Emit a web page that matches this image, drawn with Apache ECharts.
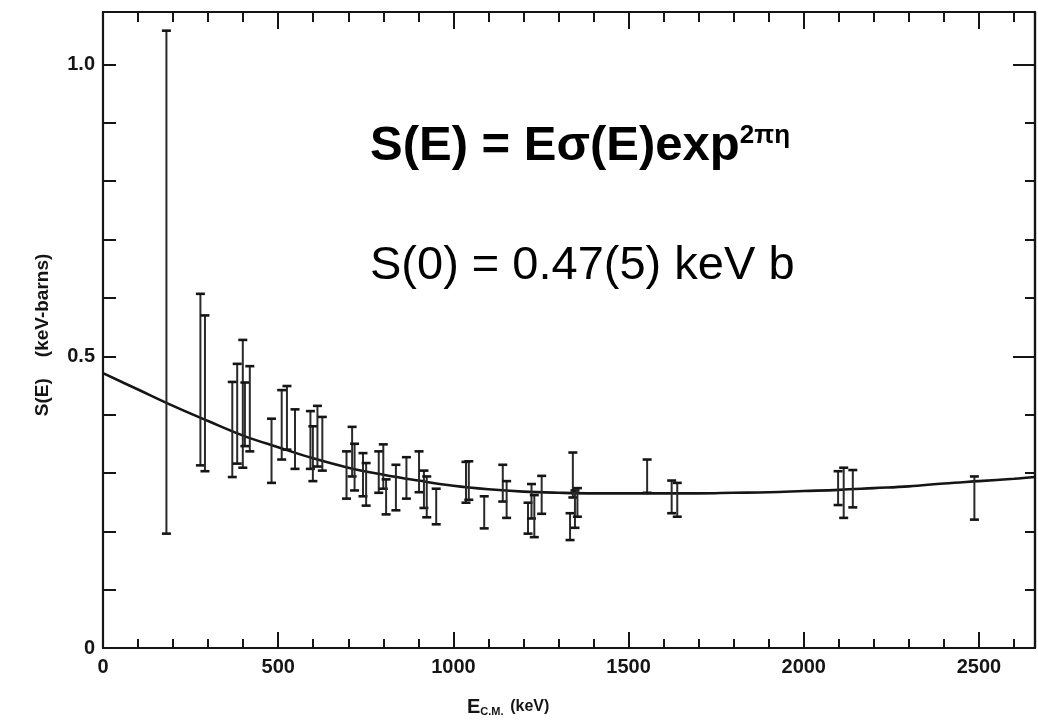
<!DOCTYPE html>
<html>
<head>
<meta charset="utf-8">
<script src="https://cdn.jsdelivr.net/npm/echarts@6/dist/echarts.min.js"></script>
<style>
html,body{margin:0;padding:0;background:#fff;}
#chart{width:1038px;height:728px;}
</style>
</head>
<body>
<div id="chart"></div>
<script>
// ---- data ----
const curveE = [0, 100, 200, 300, 400, 500, 600, 700, 800, 900, 1000, 1100, 1200, 1300, 1400, 1500, 1600, 1700, 1800, 1900, 2000, 2100, 2200, 2300, 2400, 2500, 2600, 2660];
const curveS = [0.471, 0.443, 0.415, 0.389, 0.364, 0.344, 0.325, 0.309, 0.297, 0.287, 0.278, 0.272, 0.268, 0.266, 0.265, 0.265, 0.265, 0.265, 0.266, 0.267, 0.269, 0.271, 0.274, 0.277, 0.282, 0.286, 0.290, 0.293];

const barE    = [181, 278, 291, 369, 383, 399, 405, 419, 481, 510, 525, 548, 592, 599, 612, 626, 695, 711, 718, 742, 751, 787, 800, 808, 836, 866, 902, 916, 924, 951, 1036, 1044, 1088, 1141, 1152, 1213, 1223, 1231, 1252, 1333, 1341, 1347, 1354, 1553, 1623, 1639, 2098, 2114, 2140, 2487];
const barHigh = [1.058, 0.607, 0.570, 0.456, 0.487, 0.528, 0.455, 0.483, 0.393, 0.442, 0.449, 0.409, 0.406, 0.380, 0.415, 0.396, 0.337, 0.379, 0.350, 0.334, 0.317, 0.337, 0.349, 0.289, 0.314, 0.327, 0.337, 0.304, 0.294, 0.273, 0.319, 0.320, 0.260, 0.314, 0.286, 0.249, 0.281, 0.262, 0.295, 0.231, 0.335, 0.270, 0.274, 0.323, 0.287, 0.283, 0.303, 0.309, 0.305, 0.294];
const barLow  = [0.196, 0.313, 0.303, 0.293, 0.316, 0.309, 0.346, 0.337, 0.283, 0.323, 0.340, 0.307, 0.307, 0.286, 0.311, 0.304, 0.256, 0.294, 0.270, 0.260, 0.244, 0.266, 0.273, 0.229, 0.236, 0.256, 0.267, 0.240, 0.224, 0.212, 0.249, 0.254, 0.205, 0.251, 0.223, 0.196, 0.222, 0.190, 0.230, 0.185, 0.258, 0.206, 0.225, 0.266, 0.231, 0.225, 0.245, 0.223, 0.241, 0.220];

const xTickValues = [0, 500, 1000, 1500, 2000, 2500];
const xTickLabels = ['0', '500', '1000', '1500', '2000', '2500'];
const yTickValues = [0, 0.5, 1.0];
const yTickLabels = ['0', '0.5', '1.0'];

// ---- chart ----
const INK = '#151515';
const X_MAX = 2660, Y_MAX = 1.09;

function xLabel(v) {
  const i = xTickValues.findIndex(t => Math.abs(t - v) < 1e-6);
  return i >= 0 ? xTickLabels[i] : '';
}
function yLabel(v) {
  const i = yTickValues.findIndex(t => Math.abs(t - v) < 1e-6);
  return i >= 0 ? yTickLabels[i] : '';
}

const labelFont = {color: INK, fontFamily: 'Liberation Sans', fontWeight: 'bold', fontSize: 20};

function xAxisDef(position, interval, tickLen, showLabel) {
  return {
    type: 'value', position: position, min: 0, max: X_MAX, interval: interval,
    axisLine: {show: true, onZero: false, lineStyle: {color: INK, width: 2.2}},
    axisTick: {show: true, inside: true, length: tickLen, lineStyle: {color: INK, width: 2}},
    splitLine: {show: false},
    axisLabel: showLabel ? Object.assign({show: true, margin: 9, formatter: xLabel, showMaxLabel: false}, labelFont) : {show: false}
  };
}
function yAxisDef(position, interval, tickLen, showLabel) {
  return {
    type: 'value', position: position, min: 0, max: Y_MAX, interval: interval,
    axisLine: {show: true, onZero: false, lineStyle: {color: INK, width: 2.2}},
    axisTick: {show: true, inside: true, length: tickLen, lineStyle: {color: INK, width: 2}},
    splitLine: {show: false},
    axisLabel: showLabel ? Object.assign({show: true, margin: 8, formatter: yLabel, showMaxLabel: false}, labelFont) : {show: false}
  };
}

const barData = barE.map((e, i) => [e, barLow[i], barHigh[i]]);
const curveData = curveE.map((e, i) => [e, curveS[i]]);

const option = {
  backgroundColor: '#ffffff',
  animation: false,
  grid: {left: 103, right: 3, top: 12, bottom: 80, containLabel: false},
  xAxis: [
    xAxisDef('bottom', 500, 16, true),
    xAxisDef('bottom', 100, 9, false),
    xAxisDef('top', 100, 10, false),
    xAxisDef('top', 500, 17, false)
  ],
  yAxis: [
    yAxisDef('left', 0.1, 13, true),
    yAxisDef('right', 0.1, 10, false),
    yAxisDef('right', 0.5, 22, false)
  ],
  series: [
    {
      type: 'line', xAxisIndex: 0, yAxisIndex: 0,
      data: curveData, smooth: 0.4, symbol: 'none',
      lineStyle: {color: INK, width: 2.6}, z: 3
    },
    {
      type: 'custom', xAxisIndex: 0, yAxisIndex: 0, clip: true, z: 4,
      data: barData,
      renderItem: function (params, api) {
        const x = api.value(0), lo = api.value(1), hi = api.value(2);
        const pH = api.coord([x, hi]);
        const pL = api.coord([x, lo]);
        const hw = 4.5;
        return {
          type: 'group',
          children: [
            {type: 'line', shape: {x1: pH[0], y1: pH[1], x2: pL[0], y2: pL[1]}, style: {stroke: '#2a2a2a', lineWidth: 2}},
            {type: 'line', shape: {x1: pH[0] - hw, y1: pH[1], x2: pH[0] + hw, y2: pH[1]}, style: {stroke: INK, lineWidth: 2.6}},
            {type: 'line', shape: {x1: pL[0] - hw, y1: pL[1], x2: pL[0] + hw, y2: pL[1]}, style: {stroke: INK, lineWidth: 2.6}}
          ]
        };
      }
    }
  ],
  graphic: [
    {
      type: 'text', left: 370, top: 122, z: 10,
      style: {
        text: '{m|S(E) = Eσ(E)exp}{p|2πη}',
        fill: '#000',
        rich: {
          m: {fontFamily: 'Liberation Sans', fontWeight: 'bold', fontSize: 49, lineHeight: 48, fill: '#000'},
          p: {fontFamily: 'Liberation Sans', fontWeight: 'bold', fontSize: 26, lineHeight: 22, verticalAlign: 'top', fill: '#000'}
        }
      }
    },
    {
      type: 'text', left: 370, top: 243, z: 10,
      style: {
        text: 'S(0) = 0.47(5) keV b',
        fill: '#000',
        font: 'normal 47px "Liberation Sans"'
      }
    },
    {
      type: 'text', x: 43, y: 335, rotation: Math.PI / 2, z: 10,
      style: {
        text: 'S(E)    (keV-barns)',
        fill: INK, align: 'center', verticalAlign: 'middle',
        font: 'bold 19px "Liberation Sans"'
      }
    },
    {
      type: 'text', left: 467, top: 697, z: 10,
      style: {
        text: '{e|E}{s|C.M.}  {k|(keV)}',
        fill: INK,
        rich: {
          e: {fontFamily: 'Liberation Sans', fontWeight: 'bold', fontSize: 20, fill: INK},
          s: {fontFamily: 'Liberation Sans', fontWeight: 'bold', fontSize: 11, verticalAlign: 'bottom', fill: INK},
          k: {fontFamily: 'Liberation Sans', fontWeight: 'bold', fontSize: 16, fill: INK}
        }
      }
    }
  ]
};

const chart = echarts.init(document.getElementById('chart'), null, {renderer: 'canvas'});
chart.setOption(option);
</script>
</body>
</html>
